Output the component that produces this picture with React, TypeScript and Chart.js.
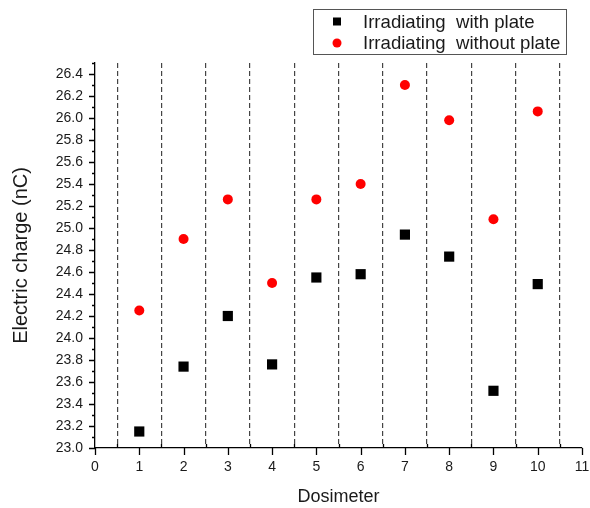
import React, { useEffect, useRef } from 'react';
import { Chart, registerables } from 'chart.js';

Chart.register(...registerables);

// ---- data ----
const dosimeters = [1, 2, 3, 4, 5, 6, 7, 8, 9, 10];
const withPlate = [23.15, 23.74, 24.2, 23.76, 24.55, 24.58, 24.94, 24.74, 23.52, 24.49];
const withoutPlate = [24.25, 24.9, 25.26, 24.5, 25.26, 25.4, 26.3, 25.98, 25.08, 26.06];
const seriesLabels = ['Irradiating  with plate', 'Irradiating  without plate'];
const xTitle = 'Dosimeter';
const yTitle = 'Electric charge (nC)';
const xRange = [0, 11];
const yRange = [23, 26.5];

const FONT = '"Liberation Sans", Arial, sans-serif';

const isInt = (v: number) => Math.abs(v - Math.round(v)) < 1e-6;
const isEvenTenth = (v: number) => Math.round(v * 10) % 2 === 0;

const axisTicks = {
  id: 'axisTicks',
  afterDraw(chart: any) {
    const { ctx, chartArea, scales } = chart;
    const x = scales.x;
    const y = scales.y;
    ctx.save();
    ctx.strokeStyle = '#000';
    ctx.lineWidth = 1.3;
    ctx.beginPath();
    x.ticks.forEach((t: any) => {
      const px = Math.round(x.getPixelForValue(t.value)) + 0.5;
      if (isInt(t.value)) {
        ctx.moveTo(px, chartArea.bottom);
        ctx.lineTo(px, chartArea.bottom + 7);
      } else {
        ctx.moveTo(px, chartArea.bottom);
        ctx.lineTo(px, chartArea.bottom - 4);
      }
    });
    y.ticks.forEach((t: any) => {
      const py = Math.round(y.getPixelForValue(t.value)) + 0.5;
      const len = isEvenTenth(t.value) ? 6 : 3;
      ctx.moveTo(chartArea.left, py);
      ctx.lineTo(chartArea.left - len, py);
    });
    ctx.stroke();
    ctx.restore();
  },
};

const legendBox = {
  id: 'legendBox',
  afterDraw(chart: any) {
    const ctx = chart.ctx;
    const x0 = 313;
    const y0 = 9;
    const w = 253;
    const h = 45;
    ctx.save();
    ctx.strokeStyle = '#555';
    ctx.lineWidth = 1;
    ctx.strokeRect(x0 + 0.5, y0 + 0.5, w, h);
    chart.data.datasets.forEach((ds: any, i: number) => {
      const cy = y0 + 12.5 + i * 21.5;
      const cx = 337;
      ctx.fillStyle = ds.backgroundColor;
      if (ds.pointStyle === 'rect') {
        ctx.fillRect(cx - 4, cy - 4, 8, 8);
      } else {
        ctx.beginPath();
        ctx.arc(cx, cy, 4.5, 0, Math.PI * 2);
        ctx.fill();
      }
      ctx.fillStyle = '#1a1a1a';
      ctx.font = `18.6px ${FONT}`;
      ctx.textBaseline = 'middle';
      ctx.textAlign = 'left';
      ctx.fillText(ds.label, 363, cy + 1);
    });
    ctx.restore();
  },
};

export default function App() {
  const ref = useRef<HTMLCanvasElement | null>(null);

  useEffect(() => {
    if (!ref.current) return;
    const chart = new Chart(ref.current, {
      type: 'scatter',
      data: {
        datasets: [
          {
            label: seriesLabels[0],
            data: dosimeters.map((d, i) => ({ x: d, y: withPlate[i] })),
            pointStyle: 'rect',
            pointRadius: 7.2,
            backgroundColor: '#000000',
            borderColor: '#000000',
            borderWidth: 0,
          },
          {
            label: seriesLabels[1],
            data: dosimeters.map((d, i) => ({ x: d, y: withoutPlate[i] })),
            pointStyle: 'circle',
            pointRadius: 5,
            backgroundColor: '#ff0000',
            borderColor: '#ff0000',
            borderWidth: 0,
          },
        ],
      },
      options: {
        responsive: false,
        animation: false,
        events: [],
        layout: { padding: { left: 0, top: 63, right: 8, bottom: 0 } },
        plugins: {
          legend: { display: false },
          tooltip: { enabled: false },
        },
        scales: {
          x: {
            type: 'linear',
            min: xRange[0],
            max: xRange[1],
            afterFit: (s: any) => {
              s.height = 60;
              s.paddingRight = 0;
              s.paddingLeft = 0;
            },
            ticks: {
              stepSize: 0.5,
              autoSkip: false,
              maxRotation: 0,
              padding: 11,
              color: '#1a1a1a',
              font: { family: FONT, size: 14 },
              callback: (v: any) => (isInt(Number(v)) ? String(Math.round(Number(v))) : ''),
            },
            grid: {
              drawTicks: false,
              color: (c: any) =>
                c.tick && !isInt(c.tick.value) ? '#444' : 'rgba(0,0,0,0)',
              lineWidth: 1.2,
            },
            border: { display: true, color: '#000', width: 1.3, dash: [5, 3] },
            title: {
              display: true,
              text: xTitle,
              color: '#1a1a1a',
              font: { family: FONT, size: 18 },
              padding: { top: 0, bottom: 0 },
            },
          },
          y: {
            type: 'linear',
            min: yRange[0],
            max: yRange[1],
            afterFit: (s: any) => {
              s.width = 95;
              s.paddingTop = 0;
              s.paddingBottom = 0;
            },
            ticks: {
              stepSize: 0.1,
              autoSkip: false,
              padding: 12,
              color: '#1a1a1a',
              font: { family: FONT, size: 14 },
              callback: (v: any) => (isEvenTenth(Number(v)) ? Number(v).toFixed(1) : ''),
            },
            grid: { drawTicks: false, drawOnChartArea: false },
            border: { display: true, color: '#000', width: 1.3 },
            title: {
              display: true,
              text: yTitle,
              color: '#1a1a1a',
              font: { family: FONT, size: 20 },
              padding: { top: 9, bottom: 0 },
            },
          },
        },
      },
      plugins: [axisTicks, legendBox],
    } as any);
    return () => chart.destroy();
  }, []);

  return (
    <div style={{ position: 'fixed', left: 0, top: 0, width: 590, height: 508, background: '#fff' }}>
      <canvas ref={ref} width={590} height={508} />
    </div>
  );
}
